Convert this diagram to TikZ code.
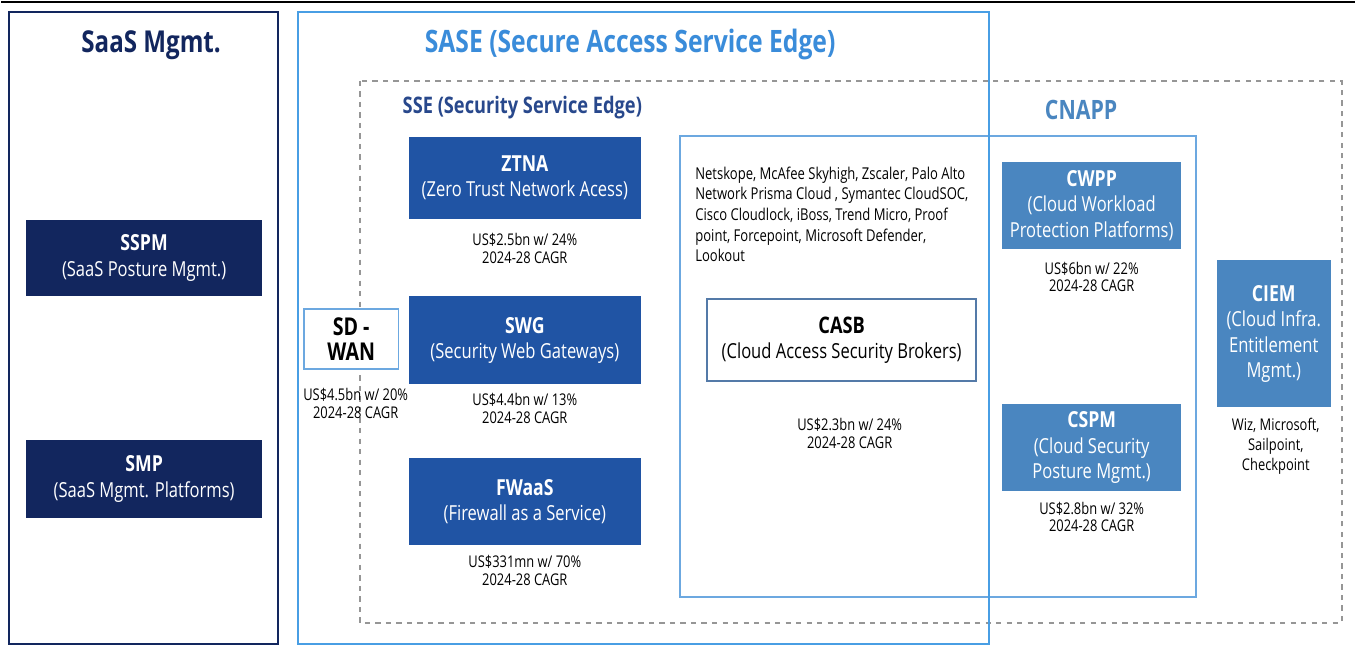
\documentclass[tikz,border=0pt]{standalone}
\usepackage{fontspec}
\setmainfont{Open Sans}[FakeStretch=0.8]
\definecolor{navy}{RGB}{18,38,94}
\definecolor{saseblue}{RGB}{72,158,228}
\definecolor{sasetitle}{RGB}{58,140,218}
\definecolor{ssenavy}{RGB}{40,72,140}
\definecolor{sseblue}{RGB}{32,84,164}
\definecolor{cnappblue}{RGB}{74,134,192}
\definecolor{casbline}{RGB}{108,168,224}
\definecolor{casbedge}{RGB}{84,122,168}
\definecolor{dashgrey}{RGB}{150,150,150}
\newcommand\boxhead[1]{{\fontsize{12.6}{14.5}\selectfont\bfseries #1}}
\begin{document}
\begin{tikzpicture}[x=0.02cm,y=-0.02cm,
    boxtext/.style={align=center,text=white,font=\fontsize{11.8}{14.5}\selectfont,inner sep=0pt},
    navybox/.style={boxtext,fill=navy,minimum width=4.72cm},
    ssebox/.style={boxtext,fill=sseblue,minimum width=4.66cm},
    cnappbox/.style={boxtext,fill=cnappblue,minimum width=3.58cm},
    caption/.style={align=center,font=\fontsize{9.2}{10.2}\selectfont,inner sep=0pt}]
    % canvas and top rule
    \fill[white](0,0) rectangle (1356,648);
    \draw[line width=1.6pt](0,2)--(1356,2);
    % outer frames
    \draw[dashgrey,dashed,line width=1pt](359,81) rectangle (1343,624);
    \draw[navy,line width=1.2pt](8,12) rectangle (277,645);
    \draw[casbline,line width=1pt](680,136) rectangle (1197,598);
    \draw[saseblue,line width=1.2pt](297,12) rectangle (990,645);
    % titles
    \node[text=navy,font=\bfseries\fontsize{17.2}{20}\selectfont] (saastitle) at (150,45) {SaaS Mgmt.};
    \node[text=sasetitle,font=\bfseries\fontsize{17.6}{20}\selectfont] (sasetitle) at (630,45) {SASE (Secure Access Service Edge)};
    \node[text=ssenavy,font=\bfseries\fontsize{13}{15}\selectfont] (ssetitle) at (522,108) {SSE (Security Service Edge)};
    \node[text=cnappblue,font=\bfseries\fontsize{15.2}{17}\selectfont] (cnapptitle) at (1082,110) {CNAPP};
    % SaaS management
    \node[navybox,minimum height=1.54cm] (sspm) at (143,258.5) {\boxhead{SSPM}\\(SaaS Posture Mgmt.)};
    \node[navybox,minimum height=1.56cm] (smp) at (143,480) {\boxhead{SMP}\\(SaaS Mgmt. Platforms)};
    % SSE
    \node[ssebox,minimum height=1.64cm] (ztna) at (524.5,178) {\boxhead{ZTNA}\\(Zero Trust Network Acess)};
    \node[caption] (ztnacap) at (524.5,249) {US\$2.5bn w/ 24\%\\2024-28 CAGR};
    \node[ssebox,minimum height=1.76cm] (swg) at (524.5,341) {\boxhead{SWG}\\(Security Web Gateways)};
    \node[caption] (swgcap) at (524.5,409) {US\$4.4bn w/ 13\%\\2024-28 CAGR};
    \node[ssebox,minimum height=1.74cm] (fwaas) at (524.5,502.5) {\boxhead{FWaaS}\\(Firewall as a Service)};
    \node[caption] (fwaascap) at (524.5,571.5) {US\$331mn w/ 70\%\\2024-28 CAGR};
    % SD-WAN
    \node[boxtext,text=black,fill=white,draw=casbline,line width=1pt,minimum width=1.9cm,minimum height=1.2cm,font=\bfseries\fontsize{14}{14.5}\selectfont] (sdwan) at (350.5,340) {SD -\\WAN};
    \node[caption] (sdwancap) at (355,404) {US\$4.5bn w/ 20\%\\2024-28 CAGR};
    % CASB
    \node[anchor=north west,align=left,inner sep=0pt,font=\fontsize{9.3}{11.7}\selectfont] (vendors) at (695,167)
        {Netskope, McAfee Skyhigh, Zscaler, Palo Alto\\Network Prisma Cloud , Symantec CloudSOC,\\Cisco Cloudlock, iBoss, Trend Micro, Proof\\point, Forcepoint, Microsoft Defender,\\Lookout};
    \node[boxtext,text=black,fill=white,draw=casbedge,line width=1.2pt,minimum width=5.4cm,minimum height=1.64cm] (casb) at (842,341) {{\fontsize{13}{14.5}\selectfont\bfseries CASB}\\(Cloud Access Security Brokers)};
    \node[caption] (casbcap) at (850,434) {US\$2.3bn w/ 24\%\\2024-28 CAGR};
    % CNAPP
    \node[cnappbox,minimum height=1.76cm] (cwpp) at (1092.5,206) {\boxhead{CWPP}\\(Cloud Workload\\Protection Platforms)};
    \node[caption] (cwppcap) at (1092.5,277.5) {US\$6bn w/ 22\%\\2024-28 CAGR};
    \node[cnappbox,minimum height=1.74cm] (cspm) at (1092.5,448.5) {\boxhead{CSPM}\\(Cloud Security\\Posture Mgmt.)};
    \node[caption] (cspmcap) at (1092.5,518) {US\$2.8bn w/ 32\%\\2024-28 CAGR};
    \node[boxtext,fill=cnappblue,minimum width=2.28cm,minimum height=2.94cm] (ciem) at (1275,334.5) {\boxhead{CIEM}\\(Cloud Infra.\\Entitlement\\Mgmt.)};
    \node[caption,font=\fontsize{9.2}{11.3}\selectfont] (ciemcap) at (1277,447) {Wiz, Microsoft,\\Sailpoint,\\Checkpoint};
\end{tikzpicture}
\end{document}
